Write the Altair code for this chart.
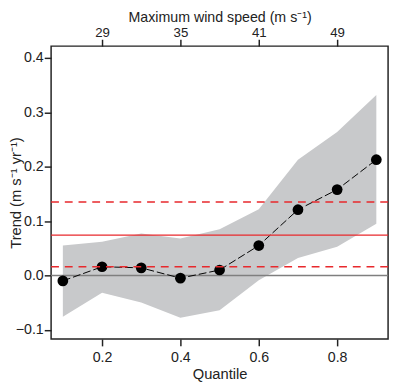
import altair as alt
import pandas as pd

# ---- data ----
quantiles = [0.1, 0.2, 0.3, 0.4, 0.5, 0.6, 0.7, 0.8, 0.9]
trend = [-0.010, 0.016, 0.014, -0.005, 0.010, 0.055, 0.121, 0.158, 0.213]
band_lower = [-0.076, -0.032, -0.050, -0.078, -0.064, -0.009, 0.032, 0.053, 0.095]
band_upper = [0.055, 0.062, 0.077, 0.068, 0.085, 0.122, 0.213, 0.264, 0.332]
mean_trend = [0.074]
mean_ci = [0.016, 0.135]
zero_line = [0.0]
x_ticks = [0.2, 0.4, 0.6, 0.8]
y_ticks = [-0.1, 0.0, 0.1, 0.2, 0.3, 0.4]
wind_tick_quantiles = [0.2, 0.4, 0.6, 0.8]
wind_tick_labels = ["29", "35", "41", "49"]

df = pd.DataFrame({"q": quantiles, "trend": trend, "lo": band_lower, "hi": band_upper})

FONT = "Liberation Sans"
W, H = 344, 299
xscale = alt.Scale(domain=[0.07, 0.93], nice=False, zero=False)
yscale = alt.Scale(domain=[-0.117, 0.422], nice=False, zero=False)

x_axis = alt.Axis(values=x_ticks, format=".1f", title="Quantile", grid=False,
                  domain=False, tickSize=7, labelPadding=5,
                  titleX=W / 2, titleY=40, titleBaseline="alphabetic")
y_axis = alt.Axis(values=y_ticks, format=".1f", title="Trend (m s⁻¹ yr⁻¹)", grid=False,
                  domain=False, tickSize=7, labelPadding=1,
                  titleX=-36, titleY=H / 2, titleBaseline="middle", titleAngle=270)

band = alt.Chart(df).mark_area(color="#c8c9cb", opacity=1).encode(
    x=alt.X("q:Q", scale=xscale, axis=x_axis),
    y=alt.Y("lo:Q", scale=yscale, axis=y_axis),
    y2="hi:Q",
)

zero = alt.Chart(pd.DataFrame({"v": zero_line})).mark_rule(color="#7f7f7f", strokeWidth=1.5).encode(
    y=alt.Y("v:Q", scale=yscale)
)

line = alt.Chart(df).mark_line(color="black", strokeWidth=1, strokeDash=[8, 3]).encode(
    x=alt.X("q:Q", scale=xscale, axis=None),
    y=alt.Y("trend:Q", scale=yscale),
)

points = alt.Chart(df).mark_circle(color="black", opacity=1, size=120).encode(
    x=alt.X("q:Q", scale=xscale, axis=None),
    y=alt.Y("trend:Q", scale=yscale),
)

red_solid = alt.Chart(pd.DataFrame({"v": mean_trend})).mark_rule(color="#e8292d", strokeWidth=1.3).encode(
    y=alt.Y("v:Q", scale=yscale)
)
red_dash = alt.Chart(pd.DataFrame({"v": mean_ci})).mark_rule(
    color="#e8292d", strokeWidth=1.5, strokeDash=[8, 6]
).encode(y=alt.Y("v:Q", scale=yscale))

label_expr = " : ".join(
    f"abs(datum.value - {q}) < 0.001 ? '{lab}'" for q, lab in zip(wind_tick_quantiles, wind_tick_labels)
) + " : ''"

top = alt.Chart(pd.DataFrame({"q": wind_tick_quantiles})).mark_point(opacity=0).encode(
    x=alt.X("q:Q", scale=xscale,
            axis=alt.Axis(orient="top", values=wind_tick_quantiles, labelExpr=label_expr,
                          title="Maximum wind speed (m s⁻¹)", grid=False, domain=False,
                          tickSize=7, labelPadding=0, labelFontSize=13.5,
                          titleFontSize=14.5,
                          titleX=W / 2, titleY=-25, titleBaseline="alphabetic")),
)

chart = alt.layer(band, zero, line, points, red_solid, red_dash, top).resolve_axis(
    x="independent"
).properties(
    width=W, height=H,
    autosize=alt.AutoSizeParams(type="none"),
    padding={"left": 44, "top": 35, "right": 4, "bottom": 42},
).configure_view(
    stroke="#222222", strokeWidth=1.5
).configure_axis(
    labelFont=FONT, titleFont=FONT, labelFontSize=14.5, titleFontSize=15,
    labelColor="#222222", titleColor="#222222", tickColor="#222222", tickWidth=1.5,
    titleFontWeight="normal",
)

chart.save("out.html", embed_options={"renderer": "svg", "actions": False})
